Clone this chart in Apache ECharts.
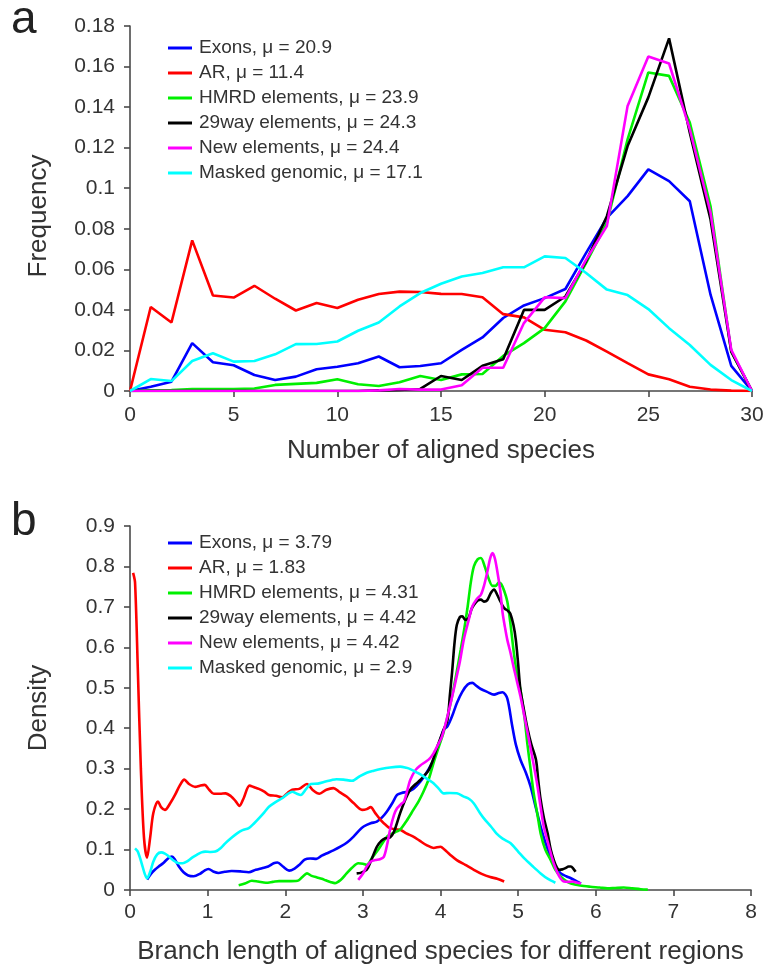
<!DOCTYPE html>
<html>
<head>
<meta charset="utf-8">
<script src="https://cdn.jsdelivr.net/npm/echarts@6/dist/echarts.min.js"></script>
<style>
  html, body { margin: 0; padding: 0; background: #fff; }
  #chart { width: 769px; height: 966px; }
</style>
</head>
<body>
<div id="chart"></div>
<script>
// ---------- Panel a: frequency by number of aligned species ----------
const speciesCounts = [0,1,2,3,4,5,6,7,8,9,10,11,12,13,14,15,16,17,18,19,20,21,22,23,24,25,26,27,28,29,30];
const namesA = ['Exons, μ = 20.9', 'AR, μ = 11.4', 'HMRD elements, μ = 23.9',
                '29way elements, μ = 24.3', 'New elements, μ = 24.4', 'Masked genomic, μ = 17.1'];
const exonsA  = [0,0.0021,0.0046,0.0236,0.0142,0.0127,0.0079,0.0054,0.0071,0.0107,0.012,0.0137,0.017,0.0117,0.0123,0.0137,0.0203,0.0264,0.036,0.0422,0.0458,0.0503,0.0681,0.0854,0.0961,0.1093,0.1035,0.0936,0.0475,0.0124,0];
const arA     = [0,0.0414,0.0338,0.0743,0.0471,0.0461,0.0519,0.0455,0.0397,0.0434,0.0409,0.045,0.0478,0.049,0.0488,0.0479,0.0478,0.0462,0.0379,0.0363,0.0302,0.029,0.0249,0.0194,0.0137,0.0082,0.0058,0.0021,0.0007,0.0002,0];
const hmrdA   = [0,0.0003,0.0005,0.001,0.001,0.001,0.0012,0.003,0.0035,0.004,0.0058,0.0033,0.0025,0.0043,0.0074,0.0054,0.0082,0.0084,0.0173,0.0236,0.031,0.0442,0.0632,0.0829,0.1241,0.1571,0.1554,0.1324,0.0911,0.0194,0];
const way29A  = [0,0,0,0,0,0,0,0,0,0,0,0,0.0003,0.0005,0.001,0.0074,0.0054,0.0124,0.0157,0.04,0.04,0.0466,0.064,0.0862,0.1208,0.1448,0.1739,0.1274,0.0846,0.0194,0];
const newA    = [0,0,0,0,0,0,0,0,0,0,0,0,0.0003,0.001,0.0007,0.0007,0.0028,0.0115,0.0115,0.0335,0.0462,0.0458,0.0648,0.0813,0.1406,0.165,0.1615,0.1291,0.0879,0.0203,0];
const maskedA = [0,0.0059,0.0049,0.0148,0.0186,0.0145,0.0148,0.0181,0.0231,0.0232,0.0244,0.0297,0.0338,0.0417,0.0483,0.0529,0.0565,0.0582,0.061,0.061,0.0664,0.0656,0.0582,0.05,0.0473,0.0404,0.031,0.0227,0.0129,0.0054,0];

// ---------- Panel b: density of branch length ----------
const namesB = ['Exons, μ = 3.79', 'AR, μ = 1.83', 'HMRD elements, μ = 4.31',
                '29way elements, μ = 4.42', 'New elements, μ = 4.42', 'Masked genomic, μ = 2.9'];

const exonsBx = [0.22,0.27,0.32,0.37,0.43,0.49,0.54,0.58,0.63,0.69,0.75,0.82,0.90,0.96,1.01,1.08,1.14,1.22,1.31,1.42,1.53,1.62,1.70,1.78,1.85,1.90,1.97,2.05,2.12,2.18,2.25,2.32,2.40,2.47,2.54,2.62,2.71,2.80,2.88,2.95,3.01,3.10,3.18,3.25,3.31,3.38,3.44,3.50,3.57,3.65,3.74,3.82,3.91,3.98,4.04,4.09,4.15,4.21,4.28,4.35,4.41,4.46,4.52,4.60,4.69,4.75,4.80,4.86,4.92,4.97,5.03,5.10,5.16,5.22,5.29,5.35,5.42,5.48,5.55,5.62,5.68,5.75,5.81];
const exonsBy = [0.026,0.04,0.05,0.058,0.067,0.078,0.083,0.075,0.058,0.044,0.036,0.034,0.04,0.048,0.052,0.045,0.042,0.045,0.047,0.046,0.044,0.05,0.054,0.058,0.066,0.068,0.058,0.048,0.053,0.062,0.075,0.078,0.077,0.085,0.091,0.098,0.107,0.118,0.132,0.147,0.157,0.165,0.169,0.18,0.194,0.215,0.235,0.24,0.243,0.25,0.268,0.29,0.322,0.36,0.396,0.405,0.43,0.462,0.49,0.508,0.512,0.505,0.497,0.49,0.483,0.487,0.489,0.474,0.41,0.36,0.322,0.29,0.256,0.21,0.157,0.118,0.082,0.058,0.041,0.034,0.029,0.022,0.016];

const arBx = [0.04,0.065,0.10,0.14,0.18,0.22,0.26,0.30,0.36,0.40,0.45,0.52,0.58,0.64,0.70,0.76,0.84,0.90,0.96,1.02,1.08,1.16,1.23,1.30,1.36,1.41,1.46,1.54,1.60,1.66,1.73,1.79,1.88,1.96,2.03,2.09,2.18,2.28,2.35,2.44,2.53,2.62,2.70,2.79,2.88,2.99,3.05,3.10,3.16,3.23,3.30,3.35,3.42,3.48,3.56,3.65,3.73,3.82,3.91,4.00,4.05,4.12,4.21,4.32,4.43,4.53,4.64,4.73,4.82];
const arBy = [0.784,0.76,0.55,0.30,0.13,0.08,0.13,0.19,0.219,0.205,0.198,0.215,0.235,0.258,0.273,0.262,0.255,0.258,0.26,0.248,0.238,0.238,0.239,0.232,0.22,0.208,0.225,0.258,0.254,0.25,0.243,0.235,0.233,0.229,0.24,0.248,0.25,0.262,0.248,0.238,0.248,0.252,0.242,0.231,0.215,0.198,0.2,0.205,0.19,0.173,0.16,0.153,0.15,0.149,0.14,0.132,0.122,0.111,0.104,0.107,0.1,0.088,0.074,0.062,0.05,0.04,0.032,0.028,0.021];

const hmrdBx = [1.40,1.48,1.57,1.65,1.75,1.84,1.92,2.03,2.16,2.22,2.28,2.34,2.41,2.47,2.52,2.58,2.64,2.72,2.79,2.86,2.94,3.00,3.05,3.12,3.18,3.25,3.31,3.38,3.44,3.48,3.56,3.65,3.72,3.78,3.85,3.91,3.98,4.04,4.13,4.20,4.26,4.31,4.35,4.39,4.43,4.48,4.52,4.57,4.62,4.67,4.71,4.75,4.78,4.82,4.86,4.90,4.94,4.98,5.03,5.08,5.12,5.16,5.20,5.25,5.29,5.35,5.42,5.48,5.55,5.62,5.68,5.80,5.93,6.05,6.15,6.25,6.36,6.47,6.58,6.67];
const hmrdBy = [0.012,0.016,0.023,0.021,0.018,0.02,0.022,0.022,0.023,0.032,0.041,0.035,0.031,0.028,0.024,0.02,0.017,0.026,0.041,0.055,0.066,0.065,0.062,0.08,0.095,0.115,0.132,0.14,0.145,0.149,0.17,0.198,0.22,0.243,0.275,0.314,0.355,0.39,0.462,0.53,0.594,0.65,0.701,0.76,0.80,0.818,0.821,0.80,0.77,0.752,0.752,0.76,0.757,0.74,0.714,0.66,0.594,0.54,0.495,0.43,0.36,0.30,0.24,0.185,0.14,0.10,0.074,0.05,0.033,0.022,0.016,0.011,0.008,0.006,0.004,0.005,0.006,0.004,0.002,0.001];

const way29Bx = [2.92,2.98,3.05,3.10,3.18,3.24,3.29,3.35,3.40,3.48,3.55,3.61,3.68,3.74,3.80,3.85,3.91,3.96,4.04,4.09,4.12,4.15,4.18,4.21,4.25,4.28,4.32,4.36,4.40,4.43,4.48,4.52,4.56,4.60,4.65,4.69,4.73,4.77,4.82,4.87,4.90,4.94,4.97,5.00,5.03,5.08,5.12,5.17,5.23,5.26,5.29,5.33,5.38,5.42,5.46,5.50,5.53,5.57,5.61,5.65,5.68,5.71,5.74];
const way29By = [0.041,0.043,0.05,0.07,0.107,0.122,0.128,0.13,0.144,0.19,0.225,0.248,0.262,0.272,0.285,0.297,0.325,0.355,0.396,0.42,0.48,0.54,0.61,0.655,0.675,0.677,0.668,0.672,0.695,0.705,0.716,0.718,0.713,0.716,0.735,0.743,0.73,0.714,0.697,0.69,0.683,0.655,0.619,0.56,0.495,0.44,0.40,0.36,0.322,0.27,0.223,0.18,0.14,0.10,0.074,0.055,0.05,0.051,0.054,0.058,0.058,0.053,0.045];

const newBx = [2.94,3.00,3.05,3.10,3.16,3.22,3.27,3.31,3.35,3.40,3.44,3.49,3.53,3.57,3.61,3.68,3.74,3.80,3.86,3.91,3.97,4.02,4.09,4.14,4.19,4.25,4.30,4.36,4.41,4.47,4.52,4.56,4.60,4.64,4.67,4.70,4.73,4.77,4.80,4.83,4.86,4.90,4.94,4.98,5.03,5.08,5.14,5.20,5.25,5.29,5.33,5.38,5.42,5.46,5.51,5.55,5.59,5.65,5.70,5.76,5.81];
const newBy = [0.025,0.04,0.058,0.07,0.074,0.076,0.082,0.11,0.149,0.185,0.202,0.212,0.219,0.245,0.272,0.297,0.308,0.316,0.325,0.338,0.36,0.38,0.43,0.47,0.512,0.565,0.619,0.665,0.701,0.72,0.73,0.752,0.784,0.82,0.833,0.82,0.79,0.74,0.685,0.65,0.619,0.588,0.553,0.52,0.479,0.43,0.371,0.31,0.256,0.205,0.157,0.12,0.091,0.065,0.041,0.028,0.021,0.02,0.021,0.018,0.016];

const maskedBx = [0.065,0.10,0.15,0.19,0.22,0.26,0.30,0.35,0.40,0.45,0.50,0.56,0.63,0.68,0.73,0.80,0.86,0.92,0.97,1.04,1.10,1.17,1.23,1.30,1.38,1.45,1.53,1.60,1.66,1.73,1.79,1.88,1.96,2.03,2.09,2.15,2.20,2.27,2.33,2.42,2.52,2.60,2.66,2.75,2.86,2.95,3.05,3.14,3.23,3.35,3.48,3.56,3.61,3.70,3.78,3.85,3.91,3.98,4.04,4.12,4.21,4.30,4.37,4.43,4.51,4.58,4.65,4.72,4.80,4.90,5.00,5.08,5.18,5.29,5.38,5.48];
const maskedBy = [0.103,0.095,0.066,0.04,0.029,0.045,0.07,0.088,0.093,0.09,0.083,0.073,0.066,0.066,0.07,0.08,0.087,0.093,0.095,0.094,0.095,0.104,0.116,0.128,0.14,0.148,0.153,0.165,0.177,0.192,0.206,0.218,0.227,0.237,0.243,0.238,0.235,0.25,0.262,0.263,0.268,0.272,0.274,0.273,0.27,0.28,0.29,0.295,0.299,0.303,0.305,0.302,0.299,0.29,0.281,0.272,0.264,0.25,0.239,0.24,0.239,0.231,0.225,0.214,0.19,0.172,0.157,0.14,0.127,0.116,0.095,0.078,0.06,0.041,0.028,0.018];

const lineColors = ['#0000ff', '#ff0000', '#00f000', '#000000', '#ff00ff', '#00ffff'];

const FONT = 'Liberation Sans, Arial, Helvetica, sans-serif';
const TEXT = '#333333';
const AXIS = '#4a4a4a';

const pairs = (xs, ys) => xs.map((x, i) => [x, ys[i]]);

const seriesA = [exonsA, arA, hmrdA, way29A, newA, maskedA].map((vals, i) => ({
  name: namesA[i],
  type: 'line',
  xAxisIndex: 0,
  yAxisIndex: 0,
  data: pairs(speciesCounts, vals),
  showSymbol: false,
  symbol: 'none',
  color: lineColors[i],
  lineStyle: { width: 2.6, color: lineColors[i] },
  animation: false
}));

const seriesB = [[exonsBx, exonsBy], [arBx, arBy], [hmrdBx, hmrdBy],
                 [way29Bx, way29By], [newBx, newBy], [maskedBx, maskedBy]].map((xy, i) => ({
  name: namesB[i],
  type: 'line',
  xAxisIndex: 1,
  yAxisIndex: 1,
  data: pairs(xy[0], xy[1]),
  showSymbol: false,
  symbol: 'none',
  smooth: 0.3,
  color: lineColors[i],
  lineStyle: { width: 2.6, color: lineColors[i] },
  animation: false
}));

function axisCommon(labelMargin) {
  return {
    axisLine: { show: true, onZero: false, lineStyle: { color: AXIS, width: 1.6 } },
    axisTick: { show: true, length: 6, lineStyle: { color: AXIS, width: 1.6 } },
    splitLine: { show: false },
    axisLabel: { color: TEXT, fontSize: 21, fontFamily: FONT, margin: labelMargin },
    nameTextStyle: { color: TEXT, fontSize: 26, fontFamily: FONT }
  };
}

function legendAt(top, names) {
  return {
    data: names,
    orient: 'vertical',
    left: 168,
    top: top,
    icon: 'rect',
    itemWidth: 24,
    itemHeight: 3,
    itemGap: 5,
    padding: 0,
    selectedMode: false,
    textStyle: { color: TEXT, fontSize: 19, fontFamily: FONT, lineHeight: 20, padding: [0, 0, 0, 2] }
  };
}

const chart = echarts.init(document.getElementById('chart'), null, { renderer: 'canvas' });
chart.setOption({
  backgroundColor: '#ffffff',
  animation: false,
  title: [
    { text: 'a', left: 11, top: -3, padding: 0, textStyle: { fontSize: 46, fontWeight: 'normal', color: '#222', fontFamily: FONT } },
    { text: 'b', left: 11, top: 499, padding: 0, textStyle: { fontSize: 46, fontWeight: 'normal', color: '#222', fontFamily: FONT } }
  ],
  legend: [legendAt(38, namesA), legendAt(533, namesB)],
  grid: [
    { left: 130, right: 17, top: 26, height: 365 },
    { left: 130, right: 18, top: 526, height: 364 }
  ],
  xAxis: [
    Object.assign(axisCommon(14), {
      gridIndex: 0, type: 'value', min: 0, max: 30, interval: 5,
      name: 'Number of aligned species', nameLocation: 'middle', nameGap: 47
    }),
    Object.assign(axisCommon(12), {
      gridIndex: 1, type: 'value', min: 0, max: 8, interval: 1,
      name: 'Branch length of aligned species for different regions', nameLocation: 'middle', nameGap: 49
    })
  ],
  yAxis: [
    Object.assign(axisCommon(15), {
      gridIndex: 0, type: 'value', min: 0, max: 0.18, interval: 0.02,
      name: 'Frequency', nameLocation: 'middle', nameRotate: 90, nameGap: 78,
      nameTextStyle: { color: TEXT, fontSize: 26, fontFamily: FONT, padding: [0, 15, 0, 0] }
    }),
    Object.assign(axisCommon(15), {
      gridIndex: 1, type: 'value', min: 0, max: 0.9, interval: 0.1,
      name: 'Density', nameLocation: 'middle', nameRotate: 90, nameGap: 78
    })
  ],
  series: seriesA.concat(seriesB)
});
</script>
</body>
</html>
